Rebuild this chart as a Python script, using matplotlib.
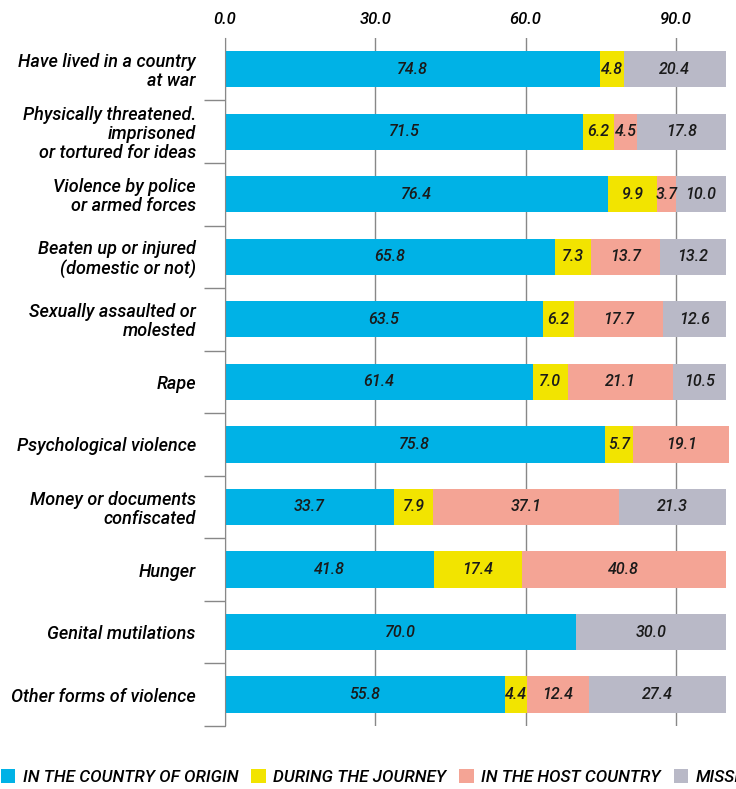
import numpy as np
import matplotlib.pyplot as plt
from matplotlib.ticker import FixedLocator

plt.rcParams['font.family'] = ['Roboto', 'DejaVu Sans']
plt.rcParams['font.style'] = 'italic'
plt.rcParams['font.weight'] = 'medium'

categories = [
    "Have lived in a country\nat war",
    "Physically threatened.\nimprisoned\nor tortured for ideas",
    "Violence by police\nor armed forces",
    "Beaten up or injured\n(domestic or not)",
    "Sexually assaulted or\nmolested",
    "Rape",
    "Psychological violence",
    "Money or documents\nconfiscated",
    "Hunger",
    "Genital mutilations",
    "Other forms of violence",
]

origin  = [74.8, 71.5, 76.4, 65.8, 63.5, 61.4, 75.8, 33.7, 41.8, 70.0, 55.8]
journey = [4.8, 6.2, 9.9, 7.3, 6.2, 7.0, 5.7, 7.9, 17.4, 0.0, 4.4]
host    = [0.0, 4.5, 3.7, 13.7, 17.7, 21.1, 19.1, 37.1, 40.8, 0.0, 12.4]
missing = [20.4, 17.8, 10.0, 13.2, 12.6, 10.5, 0.0, 21.3, 0.0, 30.0, 27.4]

series = [origin, journey, host, missing]
names = ["IN THE COUNTRY OF ORIGIN", "DURING THE JOURNEY",
         "IN THE HOST COUNTRY", "MISSING"]
colors = ["#00b2e6", "#f2e400", "#f4a495", "#b9b9c7"]

fig = plt.figure(figsize=(7.36, 7.89), dpi=100)
ax = fig.add_axes([0.3057, 0.080, 0.6943, 0.872])

y = np.arange(len(categories))
left = np.zeros(len(categories))
for vals, name, col in zip(series, names, colors):
    vals = np.array(vals)
    ax.barh(y, vals, left=left, height=0.58, color=col, label=name, zorder=2)
    for yi, l, v in zip(y, left, vals):
        if v > 0:
            ax.text(l + v / 2, yi, f"{v:.1f}", ha='center', va='center',
                    fontsize=11.5, color='#1a1a1a', zorder=3)
    left += vals

ax.set_xlim(0, 102)
ax.set_ylim(10.5, -0.5)
ax.xaxis.tick_top()
ax.set_xticks([0, 30, 60, 90])
ax.set_xticklabels(["0.0", "30.0", "60.0", "90.0"], fontsize=12)
ax.tick_params(axis='x', length=0, pad=8)
ax.grid(axis='x', color='#888888', linewidth=1, zorder=0)

ax.set_yticks(y)
ax.set_yticklabels(categories, fontsize=13, linespacing=1.05)
ax.tick_params(axis='y', which='major', length=0, pad=21)
ax.yaxis.set_minor_locator(FixedLocator(y + 0.5))
ax.tick_params(axis='y', which='minor', length=15, color='#888888', width=1)

for s in ['top', 'right', 'bottom']:
    ax.spines[s].set_visible(False)
ax.spines['left'].set_color('#888888')

# legend runs past the right edge, as in the original
fig.legend(loc='lower left', bbox_to_anchor=(-0.02, -0.014), ncol=4,
           frameon=False, fontsize=12.3, handlelength=0.85, handleheight=0.85,
           handletextpad=0.45, columnspacing=0.75)

fig.savefig("out.png", dpi=100)
